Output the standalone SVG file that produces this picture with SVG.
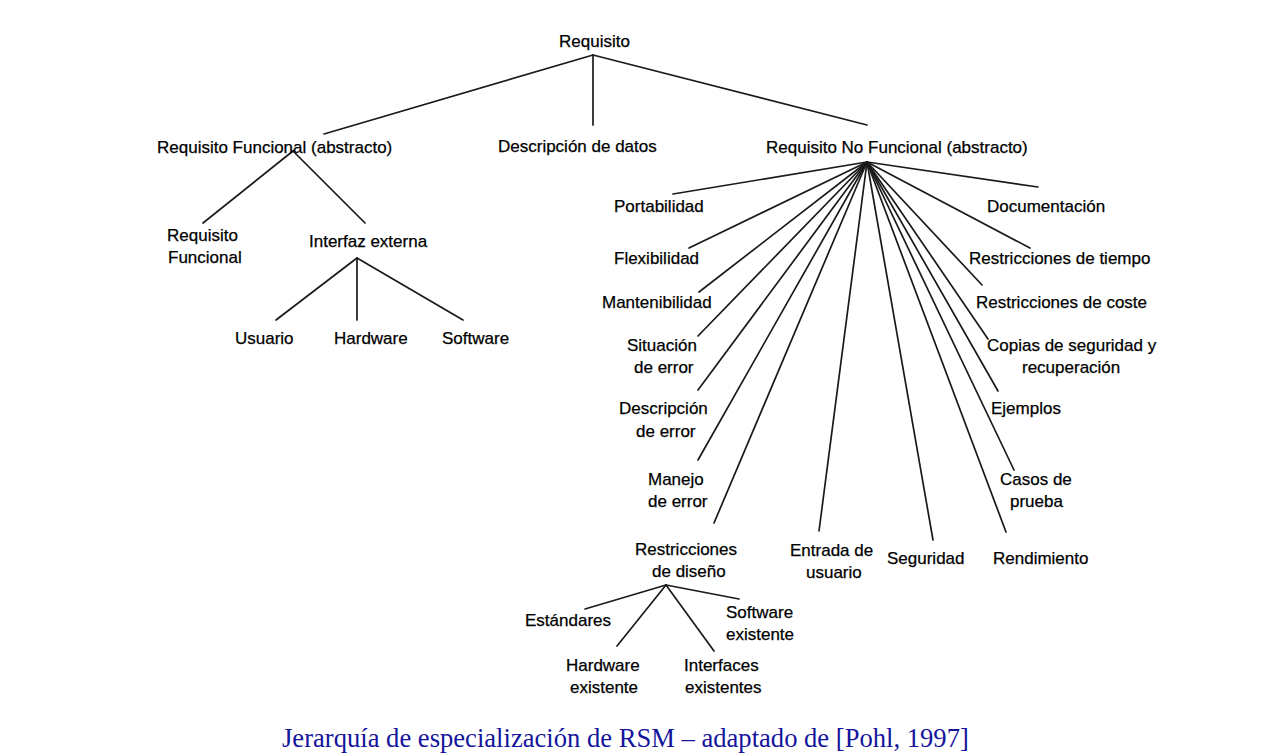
<svg xmlns="http://www.w3.org/2000/svg" width="1281" height="756" viewBox="0 0 1281 756">
<style>
.t{font-family:"Liberation Sans",Arial,sans-serif;font-size:17px;fill:#000;stroke:#000;stroke-width:0.25}
.c line{stroke:#1a1a1a;stroke-width:1.7;stroke-linecap:round}
.title{font-family:"Liberation Serif","Times New Roman",serif;font-size:26.6px;fill:#14149c}
</style>
<rect width="1281" height="756" fill="#fff"/>
<g id="connectors" class="c">
<line x1="593" y1="55" x2="324" y2="134"/>
<line x1="593" y1="55" x2="593" y2="125"/>
<line x1="593" y1="55" x2="867" y2="125"/>
<line x1="293" y1="151" x2="203" y2="223"/>
<line x1="293" y1="151" x2="365" y2="223"/>
<line x1="357" y1="258" x2="276" y2="320"/>
<line x1="357" y1="258" x2="357" y2="320"/>
<line x1="357" y1="258" x2="463" y2="320"/>
<line x1="867" y1="162" x2="673" y2="194"/>
<line x1="867" y1="162" x2="689" y2="248"/>
<line x1="867" y1="162" x2="699" y2="292"/>
<line x1="867" y1="162" x2="698" y2="336"/>
<line x1="867" y1="162" x2="698" y2="390"/>
<line x1="867" y1="162" x2="698" y2="460"/>
<line x1="867" y1="162" x2="714" y2="523"/>
<line x1="867" y1="162" x2="819" y2="531"/>
<line x1="867" y1="162" x2="933" y2="540"/>
<line x1="867" y1="162" x2="1006" y2="532"/>
<line x1="867" y1="162" x2="1014" y2="470"/>
<line x1="867" y1="162" x2="998" y2="391"/>
<line x1="867" y1="162" x2="988" y2="339"/>
<line x1="867" y1="162" x2="982" y2="285"/>
<line x1="867" y1="162" x2="1030" y2="248"/>
<line x1="867" y1="162" x2="1038" y2="187"/>
<line x1="666" y1="585" x2="585" y2="609"/>
<line x1="666" y1="585" x2="617" y2="646"/>
<line x1="666" y1="585" x2="714" y2="651"/>
<line x1="666" y1="585" x2="739" y2="599"/>
</g>
<g id="n-requisito"><text class="t" x="559" y="47">Requisito</text></g>
<g id="n-rf-abs"><text class="t" x="157" y="153">Requisito Funcional (abstracto)</text></g>
<g id="n-desc-datos"><text class="t" x="498" y="152">Descripción de datos</text></g>
<g id="n-rnf-abs"><text class="t" x="766" y="153">Requisito No Funcional (abstracto)</text></g>
<g id="n-rf"><text class="t"><tspan x="167" y="241">Requisito</tspan><tspan x="168" y="263">Funcional</tspan></text></g>
<g id="n-interfaz"><text class="t" x="309" y="247">Interfaz externa</text></g>
<g id="n-usuario"><text class="t" x="235" y="344">Usuario</text></g>
<g id="n-hardware"><text class="t" x="334" y="344">Hardware</text></g>
<g id="n-software"><text class="t" x="442" y="344">Software</text></g>
<g id="n-portabilidad"><text class="t" x="614" y="212">Portabilidad</text></g>
<g id="n-flexibilidad"><text class="t" x="614" y="264">Flexibilidad</text></g>
<g id="n-mantenibilidad"><text class="t" x="602" y="308">Mantenibilidad</text></g>
<g id="n-situacion"><text class="t"><tspan x="627" y="351">Situación</tspan><tspan x="634" y="373">de error</tspan></text></g>
<g id="n-descripcion"><text class="t"><tspan x="619" y="414">Descripción</tspan><tspan x="636" y="437">de error</tspan></text></g>
<g id="n-manejo"><text class="t"><tspan x="648" y="485">Manejo</tspan><tspan x="648" y="507">de error</tspan></text></g>
<g id="n-restr-diseno"><text class="t"><tspan x="635" y="555">Restricciones</tspan><tspan x="652" y="577">de diseño</tspan></text></g>
<g id="n-entrada"><text class="t"><tspan x="790" y="556">Entrada de</tspan><tspan x="806" y="578">usuario</tspan></text></g>
<g id="n-seguridad"><text class="t" x="887" y="564">Seguridad</text></g>
<g id="n-rendimiento"><text class="t" x="993" y="564">Rendimiento</text></g>
<g id="n-documentacion"><text class="t" x="987" y="212">Documentación</text></g>
<g id="n-tiempo"><text class="t" x="969" y="264">Restricciones de tiempo</text></g>
<g id="n-coste"><text class="t" x="976" y="308">Restricciones de coste</text></g>
<g id="n-copias"><text class="t"><tspan x="987" y="351">Copias de seguridad y</tspan><tspan x="1022" y="373">recuperación</tspan></text></g>
<g id="n-ejemplos"><text class="t" x="991" y="414">Ejemplos</text></g>
<g id="n-casos"><text class="t"><tspan x="1000" y="485">Casos de</tspan><tspan x="1010" y="507">prueba</tspan></text></g>
<g id="n-estandares"><text class="t" x="525" y="626">Estándares</text></g>
<g id="n-sw-exist"><text class="t"><tspan x="726" y="618">Software</tspan><tspan x="726" y="640">existente</tspan></text></g>
<g id="n-hw-exist"><text class="t"><tspan x="566" y="671">Hardware</tspan><tspan x="570" y="693">existente</tspan></text></g>
<g id="n-if-exist"><text class="t"><tspan x="684" y="671">Interfaces</tspan><tspan x="685" y="693">existentes</tspan></text></g>
<text class="title" x="282" y="747">Jerarquía de especialización de RSM – adaptado de [Pohl, 1997]</text>
</svg>
